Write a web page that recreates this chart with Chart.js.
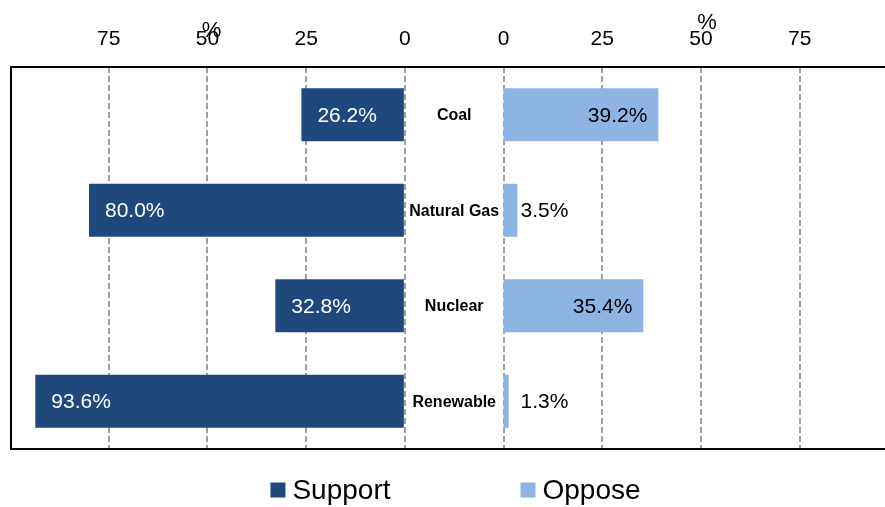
<!DOCTYPE html>
<html>
<head>
<meta charset="utf-8">
<script src="https://cdn.jsdelivr.net/npm/chart.js@4/dist/chart.umd.min.js"></script>
<style>
  html, body { margin: 0; padding: 0; background: #fff; }
  #wrap { width: 885px; height: 507px; }
</style>
</head>
<body>
<div id="wrap"><canvas id="energyChart"></canvas></div>
<script>
// Survey results: support vs oppose by energy source (%)
var categories = ['Coal', 'Natural Gas', 'Nuclear', 'Renewable'];
var support = [26.2, 80.0, 32.8, 93.6];
var oppose = [39.2, 3.5, 35.4, 1.3];
var tickValues = [0, 25, 50, 75];

// both halves share one x scale: support runs left from 0 (negative),
// oppose starts after a blank gap of GAP units for the category names
var GAP = 25;
var FONT = 'Arial, "Liberation Sans", sans-serif';
var DARK = '#1F497D';
var LIGHT = '#8DB4E2';

var ctx = document.getElementById('energyChart').getContext('2d');

// frame around the plot area (left, top, bottom)
var framePlugin = {
  id: 'frame',
  afterDraw: function(chart) {
    var a = chart.chartArea, c = chart.ctx;
    c.save();
    c.strokeStyle = '#000';
    c.lineWidth = 2;
    c.beginPath();
    c.moveTo(chart.width, a.top);
    c.lineTo(a.left + 1, a.top);
    c.lineTo(a.left + 1, a.bottom);
    c.lineTo(chart.width, a.bottom);
    c.stroke();
    c.restore();
  }
};

// value labels, category names and the "%" unit marks
var labelPlugin = {
  id: 'labels',
  afterDatasetsDraw: function(chart) {
    var c = chart.ctx, x = chart.scales.x, y = chart.scales.y;
    var zeroL = x.getPixelForValue(0), zeroR = x.getPixelForValue(GAP);
    c.save();
    c.textBaseline = 'middle';
    categories.forEach(function(name, i) {
      var py = y.getPixelForValue(i);
      // support values, white inside the bar near its outer end
      c.font = '21px ' + FONT;
      c.fillStyle = '#fff';
      c.textAlign = 'left';
      c.fillText(support[i].toFixed(1) + '%', x.getPixelForValue(-support[i]) + 16, py + 1);
      // oppose values, inside the bar if it fits, otherwise just past it
      var txt = oppose[i].toFixed(1) + '%';
      var end = x.getPixelForValue(GAP + oppose[i]);
      var w = c.measureText(txt).width;
      c.fillStyle = '#000';
      if (end - zeroR > w + 24) {
        c.textAlign = 'right';
        c.fillText(txt, end - 11, py + 1);
      } else {
        c.textAlign = 'left';
        c.fillText(txt, Math.max(end + 3, zeroR + 17), py + 1);
      }
      // category name centred in the gap
      c.font = 'bold 16px ' + FONT;
      c.textAlign = 'center';
      c.fillText(name, (zeroL + zeroR) / 2, py + 1);
    });
    c.font = '22px ' + FONT;
    c.textAlign = 'center';
    c.fillText('%', x.getPixelForValue(-50) + 4, 31);
    c.fillText('%', x.getPixelForValue(GAP + 50) + 6, 23);
    c.restore();
  }
};

// legend drawn below the plot
var legendPlugin = {
  id: 'bottomLegend',
  afterDraw: function(chart) {
    var c = chart.ctx, a = chart.chartArea;
    var sets = chart.data.datasets;
    var box = 15, gap = 7, spacing = 130, py = 490;
    c.save();
    c.font = '28px ' + FONT;
    c.textBaseline = 'middle';
    c.textAlign = 'left';
    var widths = sets.map(function(d) { return box + gap + c.measureText(d.label).width; });
    var total = widths.reduce(function(s, v) { return s + v; }, 0) + spacing * (sets.length - 1);
    var px = (a.left + a.right) / 2 + 8 - total / 2;
    sets.forEach(function(d, i) {
      c.fillStyle = d.backgroundColor;
      c.fillRect(px, py - box / 2, box, box);
      c.fillStyle = '#000';
      c.fillText(d.label, px + box + gap, py + 1);
      px += widths[i] + spacing;
    });
    c.restore();
  }
};

var data = {
  labels: categories,
  datasets: [{
    label: 'Support',
    data: support.map(function(v) { return [-v, 0]; }),
    backgroundColor: DARK
  }, {
    label: 'Oppose',
    data: oppose.map(function(v) { return [GAP, GAP + v]; }),
    backgroundColor: LIGHT
  }]
};

var options = {
  indexAxis: 'y',
  responsive: true,
  maintainAspectRatio: false,
  animation: false,
  layout: { padding: { left: 10, right: 0, top: 10, bottom: 58 } },
  datasets: {
    bar: { grouped: false, categoryPercentage: 1, barPercentage: 0.555 }
  },
  scales: {
    x: {
      position: 'top',
      min: -100,
      max: 121.6,
      z: 1,
      afterFit: function(scale) { scale.height = 57; },
      afterBuildTicks: function(scale) {
        var left = tickValues.slice().reverse().map(function(v) { return { value: -v }; });
        var right = tickValues.map(function(v) { return { value: GAP + v }; });
        scale.ticks = left.concat(right);
      },
      grid: { color: '#a0a0a0', lineWidth: 2, drawTicks: false },
      border: { display: false, dash: [6, 3] },
      ticks: {
        padding: 15,
        color: '#000',
        font: { family: FONT, size: 21 },
        maxRotation: 0,
        autoSkip: false,
        callback: function(value) { return value <= 0 ? -value : value - GAP; }
      }
    },
    y: {
      display: false
    }
  },
  plugins: {
    legend: { display: false },
    tooltip: { enabled: false }
  }
};

var energyChart = new Chart(ctx, {
  type: 'bar',
  data: data,
  options: options,
  plugins: [framePlugin, labelPlugin, legendPlugin]
});
</script>
</body>
</html>
